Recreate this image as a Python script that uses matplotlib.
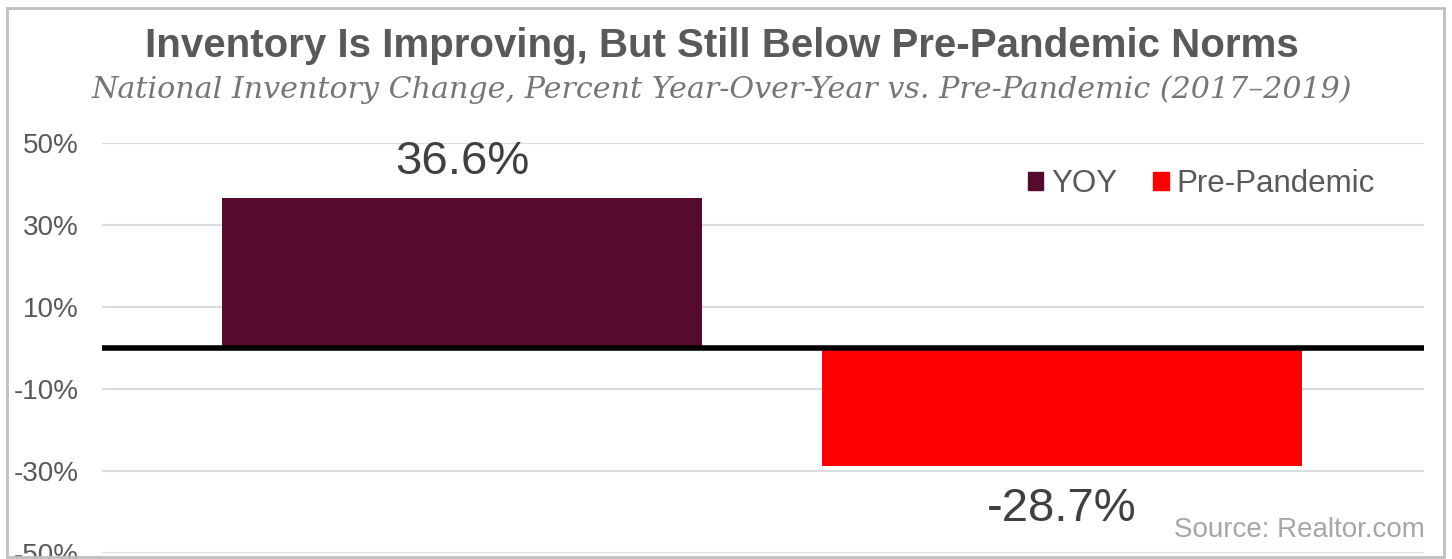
import matplotlib.pyplot as plt
from matplotlib.patches import Rectangle, Patch

categories = ["YOY", "Pre-Pandemic"]
values = [36.6, -28.7]
colors = ["#550a2e", "#ff0000"]
yticks = [50, 30, 10, -10, -30, -50]

W, H = 1452, 559
fig = plt.figure(figsize=(W / 100, H / 100), dpi=100)
plt.rcParams['font.family'] = ['Liberation Sans', 'DejaVu Sans']

# outer frame
fig.patches.append(Rectangle((7 / W, 2 / H), 1437 / W, 549 / H, transform=fig.transFigure,
                             fill=False, edgecolor="#bfbfbf", linewidth=2))

ax = fig.add_axes([102 / W, 1 - 553 / H, 1322 / W, 410 / H])
x = list(range(len(values)))
ax.bar(x, values, width=0.8, color=colors, zorder=2)
ax.set_xlim(-0.6, 1.603)
ax.set_ylim(-50, 50)
ax.set_yticks(yticks)
ax.set_yticklabels([f"{t}%" for t in yticks], color="#595959", fontsize=20)
ax.tick_params(axis="y", length=0, pad=17)
ax.set_xticks([])
for s in ax.spines.values():
    s.set_visible(False)
for t in yticks:
    ax.axhline(t, color="#d9dde2", linewidth=1.5, zorder=1)
ax.axhline(0, color="black", linewidth=4, zorder=3)

for xi, v in zip(x, values):
    ax.annotate(f"{v}%", (xi, v), xytext=(0, 26 if v > 0 else -31), textcoords="offset points",
                ha="center", va="center", fontsize=34, color="#404040")

handles = [Patch(color=c, label=l) for c, l in zip(colors, categories)]
ax.legend(handles=handles, loc="center right", bbox_to_anchor=(0.963, 0.9), ncol=2, frameon=False,
          fontsize=22.5, labelcolor="#595959", handlelength=0.5, handleheight=0.5,
          handletextpad=0.25, columnspacing=1.15, borderpad=0, borderaxespad=0)

fig.text(722 / W, 1 - 46 / H, "Inventory Is Improving, But Still Below Pre-Pandemic Norms",
         ha="center", va="center", fontsize=29, fontweight="bold", color="#595959")
fig.text(722 / W, 1 - 90 / H, "National Inventory Change, Percent Year-Over-Year vs. Pre-Pandemic (2017\u20132019)",
         ha="center", va="center", fontsize=21.7, style="italic", color="#767676",
         family=["DejaVu Serif"])
fig.text(1425 / W, 1 - 530 / H, "Source: Realtor.com", ha="right", va="center",
         fontsize=20, color="#a6a6a6")

fig.savefig("out.png", dpi=100)
